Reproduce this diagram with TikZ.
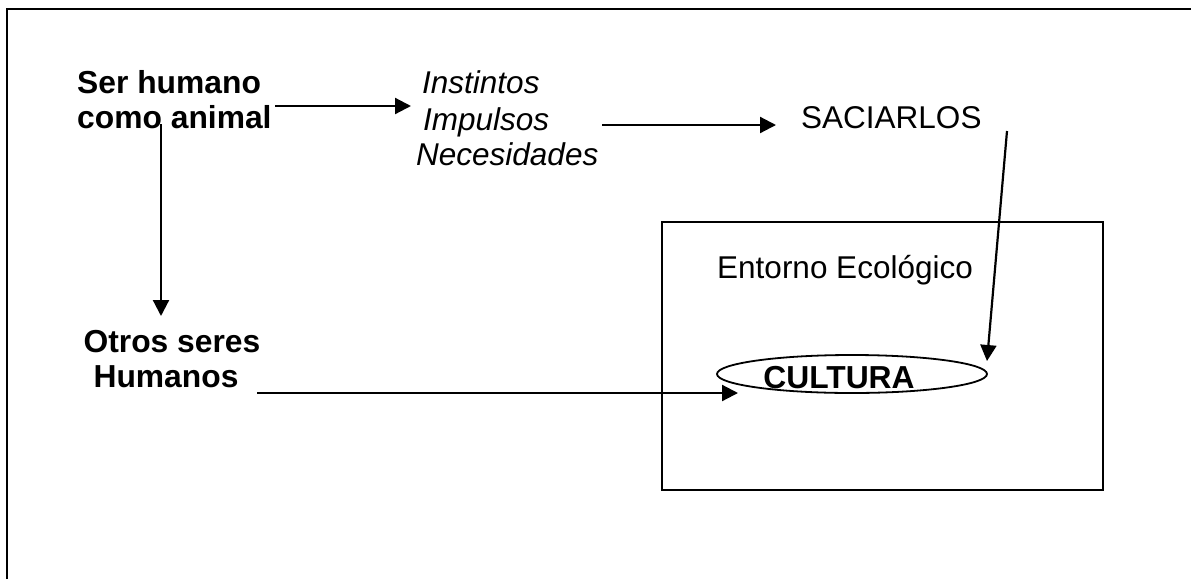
\documentclass[tikz,border=0pt]{standalone}
\usepackage{fontspec}
\setmainfont{Liberation Sans}
\usetikzlibrary{arrows.meta}
\begin{document}
\begin{tikzpicture}[x=1pt,y=-1pt,
  lbl/.style={inner sep=0pt, anchor=base west, font=\fontsize{31.5}{31.5}\selectfont},
  blbl/.style={lbl, font=\fontsize{31.8}{31.8}\selectfont\bfseries},
  ilbl/.style={lbl, font=\fontsize{31.5}{31.5}\selectfont\itshape},
  conn/.style={line width=2.2pt, -{Triangle[length=16pt,width=16pt]}},
  frame/.style={line width=2.4pt}]
\useasboundingbox (0,0) rectangle (1191,579);
% outer frame (open on right and bottom)
\draw[frame] (7,579) -- (7,9) -- (1191,9);
% labels
\node[blbl] (sh1) at (77,93) {Ser humano};
\node[blbl] (sh2) at (77,128) {como animal};
\node[ilbl] (ins) at (422,93) {Instintos};
\node[ilbl] (imp) at (423,130) {Impulsos};
\node[ilbl] (nec) at (416,165) {Necesidades};
\node[lbl] (sac) at (801,128) {SACIARLOS};
\node[blbl, anchor=base] (otr1) at (172,352) {Otros seres};
\node[blbl, anchor=base] (otr2) at (166,387) {Humanos};
% environment box
\node[draw, line width=2.2pt, minimum width=441pt, minimum height=268pt, inner sep=0pt, anchor=north west] (box) at (661,221) {};
\node[lbl] (ent) at (717,278) {Entorno Ecológico};
% culture ellipse
\draw[line width=1.8pt] (852,374) ellipse [x radius=135, y radius=19];
\node[blbl, anchor=base] (cul) at (839,388) {CULTURA};
% connector endpoints
\coordinate (a1) at (275,106);
\coordinate (a2) at (411,106);
\coordinate (b1) at (602,125);
\coordinate (b2) at (776,125);
\coordinate (c1) at (1007,131);
\coordinate (c2) at (987,361);
\coordinate (d1) at (161,124);
\coordinate (d2) at (161,316);
\coordinate (e1) at (257,393);
\coordinate (e2) at (738,393);
\draw[conn] (a1) -- (a2);
\draw[conn] (b1) -- (b2);
\draw[conn] (c1) -- (c2);
\draw[conn] (d1) -- (d2);
\draw[conn] (e1) -- (e2);
\end{tikzpicture}
\end{document}
